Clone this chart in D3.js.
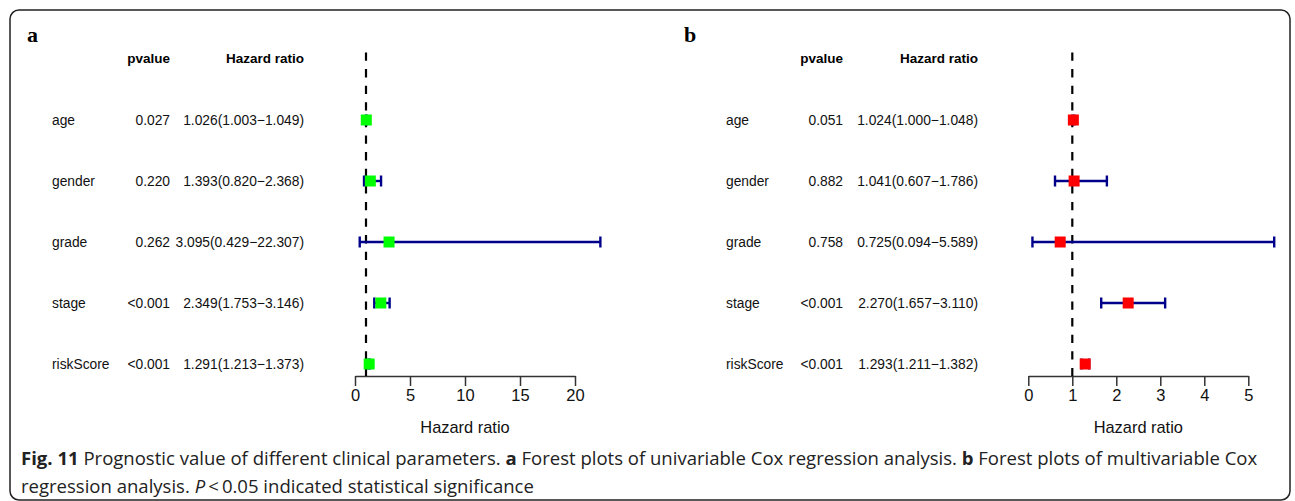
<!DOCTYPE html>
<html>
<head>
<meta charset="utf-8">
<script src="https://cdn.jsdelivr.net/npm/d3@7"></script>
<style>
  body { margin: 0; background: #fff; }
  svg { display: block; }
</style>
</head>
<body>
<div id="chart"></div>
<script>
// rows of both forest plots
const rows = ["age", "gender", "grade", "stage", "riskScore"];

// a: univariable
const pvalA = ["0.027", "0.220", "0.262", "<0.001", "<0.001"];
const hrA = [1.026, 1.393, 3.095, 2.349, 1.291];
const lowA = [1.003, 0.820, 0.429, 1.753, 1.213];
const highA = [1.049, 2.368, 22.307, 3.146, 1.373];
const ticksA = [0, 5, 10, 15, 20];

// b: multivariable
const pvalB = ["0.051", "0.882", "0.758", "<0.001", "<0.001"];
const hrB = [1.024, 1.041, 0.725, 2.270, 1.293];
const lowB = [1.000, 0.607, 0.094, 1.657, 1.211];
const highB = [1.048, 1.786, 5.589, 3.110, 1.382];
const ticksB = [0, 1, 2, 3, 4, 5];

const width = 1295, height = 501;

const svg = d3.select("#chart")
    .append("svg")
    .attr("width", width)
    .attr("height", height);

// outer frame
svg.append("rect")
    .attr("x", 10).attr("y", 10)
    .attr("width", 1280).attr("height", 490)
    .attr("rx", 9)
    .attr("fill", "none")
    .attr("stroke", "#222")
    .attr("stroke-width", 1.5);

const y = d3.scalePoint()
    .domain(rows)
    .range([120, 364]);

const fmt = d => d.toFixed(3);

function panel(opt) {
    const g = svg.append("g");
    const font = "'Liberation Sans', Arial, sans-serif";

    // panel letter
    g.append("text")
        .attr("x", opt.letterX).attr("y", 42)
        .attr("font-family", "'Liberation Serif', 'Times New Roman', serif")
        .attr("font-weight", "bold")
        .attr("font-size", 22)
        .text(opt.letter);

    // headers
    g.append("text")
        .attr("x", opt.pX).attr("y", 63)
        .attr("text-anchor", "end")
        .attr("font-family", font).attr("font-weight", "bold").attr("font-size", 13.5)
        .text("pvalue");
    g.append("text")
        .attr("x", opt.hrX).attr("y", 63)
        .attr("text-anchor", "end")
        .attr("font-family", font).attr("font-weight", "bold").attr("font-size", 13.5)
        .text("Hazard ratio");

    const data = rows.map((r, i) => ({
        name: r, p: opt.pval[i], hr: opt.hr[i], lo: opt.low[i], hi: opt.high[i]
    }));

    const rowsG = g.selectAll(".row").data(data).enter().append("g")
        .attr("font-family", font).attr("font-size", 13.8).attr("fill", "#111");

    rowsG.append("text")
        .attr("x", opt.labelX).attr("y", d => y(d.name) + 5)
        .text(d => d.name);
    rowsG.append("text")
        .attr("x", opt.pX).attr("y", d => y(d.name) + 5)
        .attr("text-anchor", "end")
        .text(d => d.p);
    rowsG.append("text")
        .attr("x", opt.hrX).attr("y", d => y(d.name) + 5)
        .attr("text-anchor", "end")
        .text(d => fmt(d.hr) + "(" + fmt(d.lo) + "\u2212" + fmt(d.hi) + ")");

    const x = d3.scaleLinear()
        .domain([opt.ticks[0], opt.ticks[opt.ticks.length - 1]])
        .range(opt.range);

    // axis
    const axis = g.append("g")
        .attr("transform", "translate(0,376)")
        .call(d3.axisBottom(x).tickValues(opt.ticks).tickSize(10).tickSizeOuter(0).tickPadding(3).tickFormat(d3.format("d")));
    axis.select(".domain").attr("stroke", "#333").attr("stroke-width", 1.5);
    axis.selectAll(".tick line").attr("stroke", "#333").attr("stroke-width", 1.5);
    axis.selectAll(".tick text")
        .attr("font-family", font).attr("font-size", 16.5).attr("fill", "#111");

    g.append("text")
        .attr("x", (opt.range[0] + opt.range[1]) / 2).attr("y", 433)
        .attr("text-anchor", "middle")
        .attr("font-family", font).attr("font-size", 16.4).attr("fill", "#111")
        .text("Hazard ratio");

    // reference line at HR = 1
    g.append("line")
        .attr("x1", x(1)).attr("x2", x(1))
        .attr("y1", 52.5).attr("y2", 376)
        .attr("stroke", "#000")
        .attr("stroke-width", 2.2)
        .attr("stroke-dasharray", "8.3,8.3");

    // confidence intervals
    const ci = g.selectAll(".ci").data(data).enter().append("g")
        .attr("stroke", "#00008B").attr("stroke-width", 2.4);
    ci.append("line")
        .attr("x1", d => x(d.lo)).attr("x2", d => x(d.hi))
        .attr("y1", d => y(d.name)).attr("y2", d => y(d.name));
    ci.append("line")
        .attr("x1", d => x(d.lo)).attr("x2", d => x(d.lo))
        .attr("y1", d => y(d.name) - 5.5).attr("y2", d => y(d.name) + 5.5);
    ci.append("line")
        .attr("x1", d => x(d.hi)).attr("x2", d => x(d.hi))
        .attr("y1", d => y(d.name) - 5.5).attr("y2", d => y(d.name) + 5.5);

    // point estimates
    g.selectAll(".pt").data(data).enter().append("rect")
        .attr("x", d => x(d.hr) - 5.5).attr("y", d => y(d.name) - 5.5)
        .attr("width", 11).attr("height", 11)
        .attr("fill", opt.color);
}

panel({
    letter: "a", letterX: 27, labelX: 52, pX: 170, hrX: 304,
    pval: pvalA, hr: hrA, low: lowA, high: highA,
    ticks: ticksA, range: [355, 575], color: "#00FF00"
});

panel({
    letter: "b", letterX: 684, labelX: 726, pX: 843, hrX: 978,
    pval: pvalB, hr: hrB, low: lowB, high: highB,
    ticks: ticksB, range: [1028.3, 1248.3], color: "#FF0000"
});

// caption
const capFont = "'Open Sans', 'Noto Sans', sans-serif";
const cap1 = svg.append("text")
    .attr("x", 21).attr("y", 465)
    .attr("font-family", capFont).attr("font-size", 17).attr("fill", "#222");
cap1.append("tspan").attr("font-weight", "bold").text("Fig. 11");
cap1.append("tspan").text(" Prognostic value of different clinical parameters. ");
cap1.append("tspan").attr("font-weight", "bold").text("a");
cap1.append("tspan").text(" Forest plots of univariable Cox regression analysis. ");
cap1.append("tspan").attr("font-weight", "bold").text("b");
cap1.append("tspan").text(" Forest plots of multivariable Cox");

const cap2 = svg.append("text")
    .attr("x", 21).attr("y", 493)
    .attr("font-family", capFont).attr("font-size", 17).attr("fill", "#222");
cap2.append("tspan").text("regression analysis. ");
cap2.append("tspan").attr("font-style", "italic").text("P");
cap2.append("tspan").text("\u2009<\u20090.05 indicated statistical significance");

// fit the caption to the width of the first line
const len = cap1.node().getComputedTextLength();
const fs = 17 * 1237 / len;
cap1.attr("font-size", fs);
cap2.attr("font-size", fs);
</script>
</body>
</html>
